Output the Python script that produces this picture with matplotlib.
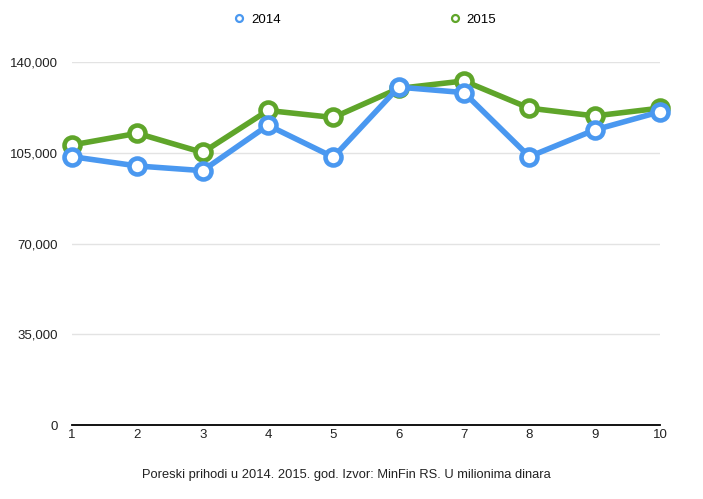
import matplotlib
matplotlib.use("Agg")
import matplotlib.pyplot as plt
from matplotlib.lines import Line2D
from matplotlib.ticker import FuncFormatter

plt.rcParams['font.family'] = ['Liberation Sans', 'DejaVu Sans']

# podaci (u milionima dinara)
months = [1, 2, 3, 4, 5, 6, 7, 8, 9, 10]
prihodi_2014 = [103500, 99900, 98100, 115600, 103300, 130300, 128200, 103500, 113800, 120800]
prihodi_2015 = [108000, 112500, 105100, 121300, 118600, 129800, 132700, 122200, 119200, 122200]
y_ticks = [0, 35000, 70000, 105000, 140000]
caption = "Poreski prihodi u 2014. 2015. god. Izvor: MinFin RS. U milionima dinara"

blue = '#4a98f0'
green = '#5fa52a'

fig = plt.figure(figsize=(7.03, 4.99), dpi=100)
ax = fig.add_axes([72 / 703, 1 - 425 / 499, 588 / 703, 363 / 499])

for vals, col, z in [(prihodi_2015, green, 3), (prihodi_2014, blue, 4)]:
    ax.plot(months, vals, color=col, lw=4, marker='o', ms=11.5,
            mfc='white', mec=col, mew=3.3, clip_on=False, zorder=z)

ax.set_xlim(1, 10)
ax.set_ylim(0, 140000)
ax.set_xticks(months)
ax.set_yticks(y_ticks)
ax.yaxis.set_major_formatter(FuncFormatter(lambda v, p: f"{int(v):,}"))
ax.grid(axis='y', color='#e3e3e3', lw=1)
ax.set_axisbelow(True)
for s in ['top', 'right', 'left']:
    ax.spines[s].set_visible(False)
ax.spines['bottom'].set_linewidth(1.3)
ax.tick_params(length=0, labelsize=9.5, colors='#222222')
ax.tick_params(axis='y', pad=10)
ax.tick_params(axis='x', pad=3)

handles = [Line2D([], [], ls='none', marker='o', ms=5, mfc='white', mec=blue, mew=1.6),
           Line2D([], [], ls='none', marker='o', ms=5, mfc='white', mec=green, mew=1.6)]
fig.legend(handles, ['2014', '2015'], loc='center', bbox_to_anchor=(365 / 703, 1 - 20 / 499),
           ncol=2, frameon=False, fontsize=9.5, handlelength=0.8, handletextpad=0.5,
           columnspacing=12.8)

fig.text(346 / 703, 1 - 475 / 499, caption, ha='center', va='center', fontsize=9.3, color='#222222')

fig.savefig('out.png', dpi=100)
